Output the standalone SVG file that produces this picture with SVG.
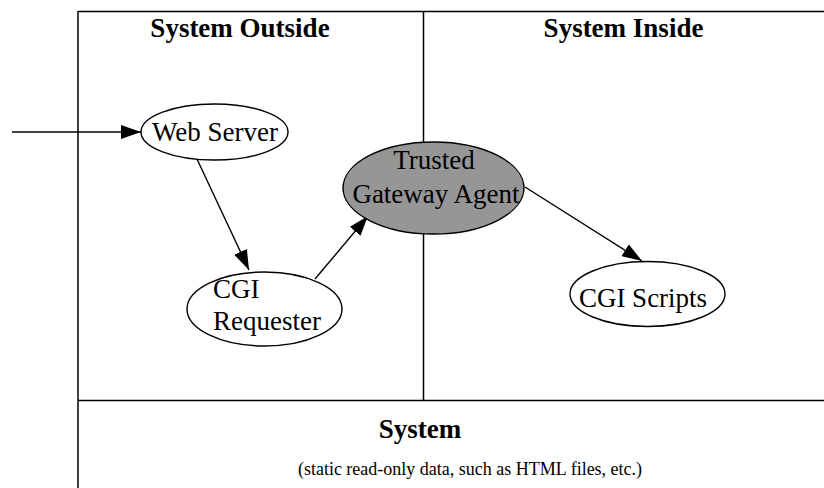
<svg xmlns="http://www.w3.org/2000/svg" width="824" height="488" viewBox="0 0 824 488">
<defs>
<style>
.frame{stroke:#000;stroke-width:1.5;fill:none}
.edge{stroke:#000;stroke-width:1.4;fill:none;marker-end:url(#ah)}
.node{stroke:#000;stroke-width:1.4;fill:#fff}
.gray{fill:#969696}
.lbl{font-family:"Liberation Serif","Times New Roman",serif;font-size:27px;fill:#000}
.hd{font-family:"Liberation Serif","Times New Roman",serif;font-size:27px;font-weight:bold;fill:#000;text-anchor:middle}
.sub{font-family:"Liberation Serif","Times New Roman",serif;font-size:18px;fill:#000;text-anchor:middle}
</style>
<marker id="ah" markerUnits="userSpaceOnUse" markerWidth="20" markerHeight="14" refX="20" refY="7" orient="auto">
<path d="M0,0 L20,7 L0,14 z" fill="#000"/>
</marker>
</defs>
<rect width="824" height="488" fill="#fff"/>
<g id="frame">
<line class="frame" x1="78" y1="11.5" x2="824" y2="11.5"/>
<line class="frame" x1="78" y1="11" x2="78" y2="488"/>
<line class="frame" x1="423.5" y1="11" x2="423.5" y2="401"/>
<line class="frame" x1="78" y1="400.5" x2="824" y2="400.5"/>
<text class="hd" x="240" y="37">System Outside</text>
<text class="hd" x="623.5" y="37">System Inside</text>
<text class="hd" x="420" y="438">System</text>
<text class="sub" x="470" y="475">(static read-only data, such as HTML files, etc.)</text>
</g>
<g id="connectors">
<line class="edge" x1="12" y1="132" x2="141" y2="132"/>
<line class="edge" x1="197" y1="159" x2="249" y2="270"/>
<line class="edge" x1="315" y1="279" x2="368" y2="216"/>
<line class="edge" x1="525" y1="187" x2="642" y2="261"/>
</g>
<g id="web-server">
<ellipse class="node" cx="214.5" cy="132" rx="73.5" ry="28"/>
<text class="lbl" x="215" y="141" text-anchor="middle">Web Server</text>
</g>
<g id="cgi-requester">
<ellipse class="node" cx="264.5" cy="309" rx="77.5" ry="37"/>
<text class="lbl" x="213" y="298">CGI</text>
<text class="lbl" x="213" y="330">Requester</text>
</g>
<g id="trusted-gateway-agent">
<ellipse class="node gray" cx="433.5" cy="188" rx="90.5" ry="46"/>
<text class="lbl" x="434" y="169" text-anchor="middle">Trusted</text>
<text class="lbl" x="436" y="203" text-anchor="middle">Gateway Agent</text>
</g>
<g id="cgi-scripts">
<ellipse class="node" cx="647.5" cy="294" rx="77.5" ry="32.5"/>
<text class="lbl" x="643" y="307" text-anchor="middle">CGI Scripts</text>
</g>
</svg>
